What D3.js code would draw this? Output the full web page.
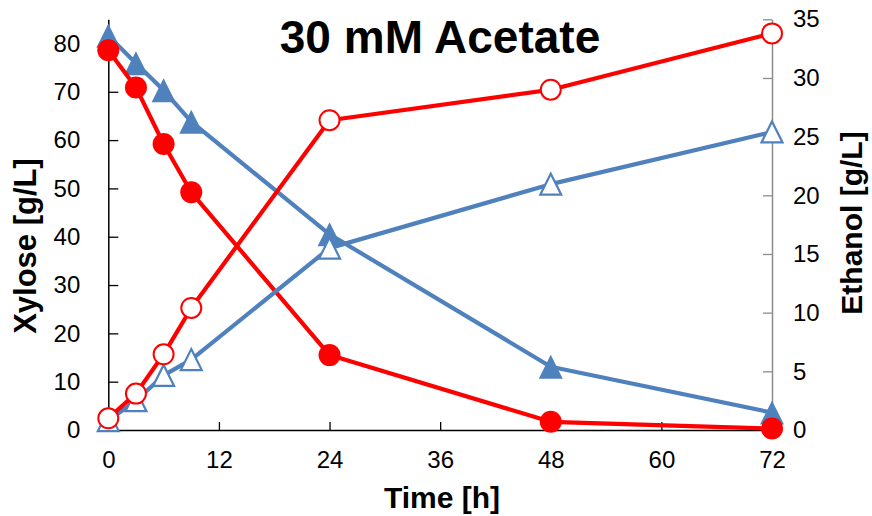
<!DOCTYPE html>
<html>
<head>
<meta charset="utf-8">
<script src="https://cdn.jsdelivr.net/npm/d3@7"></script>
<style>
    body { margin: 0; background: #fff; }
    svg { display: block; font-family: "Liberation Sans", Arial, sans-serif; }
</style>
</head>
<body>
<div id="chart"></div>
<script>
(function(){

    //sampling times [h]
    var times = [0, 3, 6, 9, 24, 48, 72];
    //xylose [g/L], left axis
    var xyloseRed = [78.6, 70.9, 59.2, 49.2, 15.5, 1.7, 0.3];
    var xyloseBlue = [81.6, 75.9, 70.3, 63.8, 40.5, 13.1, 3.6];
    //ethanol [g/L], right axis
    var ethanolRed = [1.0, 3.1, 6.45, 10.4, 26.4, 29.0, 33.8];
    var ethanolBlue = [0.8, 2.5, 4.65, 6.0, 15.5, 20.95, 25.4];
    //tick labels
    var xTicks = [0, 12, 24, 36, 48, 60, 72];
    var leftTicks = [0, 10, 20, 30, 40, 50, 60, 70, 80];
    var rightTicks = [0, 5, 10, 15, 20, 25, 30, 35];

    var width = 872, height = 516;
    var red = "#ff0000", blue = "#4f81bd";

    var svg = d3.select("#chart").append("svg")
        .attr("width", width)
        .attr("height", height);

    //scales
    var x = d3.scaleLinear().domain([0, 72]).range([108.3, 772]);
    var yL = d3.scaleLinear().domain([0, 85]).range([430, 19.3]);
    var yR = d3.scaleLinear().domain([0, 35]).range([430, 19.3]);

    //axes
    var bottom = svg.append("g")
        .attr("transform", "translate(0,430)")
        .call(d3.axisBottom(x).tickValues(xTicks).tickSize(-8).tickPadding(21).tickSizeOuter(0));

    var left = svg.append("g")
        .attr("transform", "translate(108.3,0)")
        .call(d3.axisLeft(yL).tickValues(leftTicks).tickSize(-10).tickPadding(28).tickSizeOuter(0));

    var right = svg.append("g")
        .attr("transform", "translate(772,0)")
        .call(d3.axisRight(yR).tickValues(rightTicks).tickSize(-9).tickPadding(21).tickSizeOuter(0));

    [bottom, left, right].forEach(function(g){
        g.selectAll("text")
            .style("font-family", "'Liberation Sans', Arial, sans-serif")
            .style("font-size", "24px")
            .attr("fill", "#000");
        g.select(".domain").attr("stroke-width", 1.5);
        g.selectAll(".tick line").attr("stroke-width", 1.3);
    });
    right.select(".domain").attr("stroke", "#8c8c8c");
    right.selectAll(".tick line").attr("stroke", "#8c8c8c");

    //triangle marker path centred on its bounding box
    function triPath(w, h){
        return "M0," + (-h/2) + "L" + (w/2) + "," + (h/2) + "L" + (-w/2) + "," + (h/2) + "Z";
    }

    function drawSeries(values, yScale, color, marker, filled){
        var pts = times.map(function(t, i){ return [x(t), yScale(values[i])]; });
        var g = svg.append("g");
        g.append("path")
            .attr("d", d3.line()(pts))
            .attr("fill", "none")
            .attr("stroke", color)
            .attr("stroke-width", 4.2)
            .attr("stroke-linejoin", "round");
        if (marker === "circle"){
            g.selectAll("circle")
                .data(pts)
                .enter().append("circle")
                .attr("cx", function(d){ return d[0]; })
                .attr("cy", function(d){ return d[1]; })
                .attr("r", filled ? 11 : 10)
                .attr("fill", filled ? color : "#fff")
                .attr("stroke", color)
                .attr("stroke-width", filled ? 0 : 2);
        } else {
            g.selectAll("path.marker")
                .data(pts)
                .enter().append("path")
                .attr("class", "marker")
                .attr("transform", function(d){ return "translate(" + d[0] + "," + d[1] + ")"; })
                .attr("d", filled ? triPath(24, 24) : triPath(21, 21))
                .attr("fill", filled ? color : "#fff")
                .attr("stroke", color)
                .attr("stroke-width", filled ? 0 : 2.2)
                .attr("stroke-linejoin", "miter");
        }
    }

    drawSeries(xyloseBlue, yL, blue, "triangle", true);
    drawSeries(xyloseRed, yL, red, "circle", true);
    drawSeries(ethanolBlue, yR, blue, "triangle", false);
    drawSeries(ethanolRed, yR, red, "circle", false);

    //titles
    svg.append("text")
        .attr("x", 440)
        .attr("y", 53)
        .attr("text-anchor", "middle")
        .style("font-size", "46px")
        .style("font-weight", "bold")
        .text("30 mM Acetate");

    svg.append("text")
        .attr("x", 442)
        .attr("y", 508)
        .attr("text-anchor", "middle")
        .style("font-size", "30px")
        .style("font-weight", "bold")
        .text("Time [h]");

    svg.append("text")
        .attr("transform", "translate(36,246) rotate(-90)")
        .attr("text-anchor", "middle")
        .style("font-size", "31px")
        .style("font-weight", "bold")
        .text("Xylose [g/L]");

    svg.append("text")
        .attr("transform", "translate(862,223) rotate(-90)")
        .attr("text-anchor", "middle")
        .style("font-size", "30px")
        .style("font-weight", "bold")
        .text("Ethanol [g/L]");

})()
</script>
</body>
</html>
